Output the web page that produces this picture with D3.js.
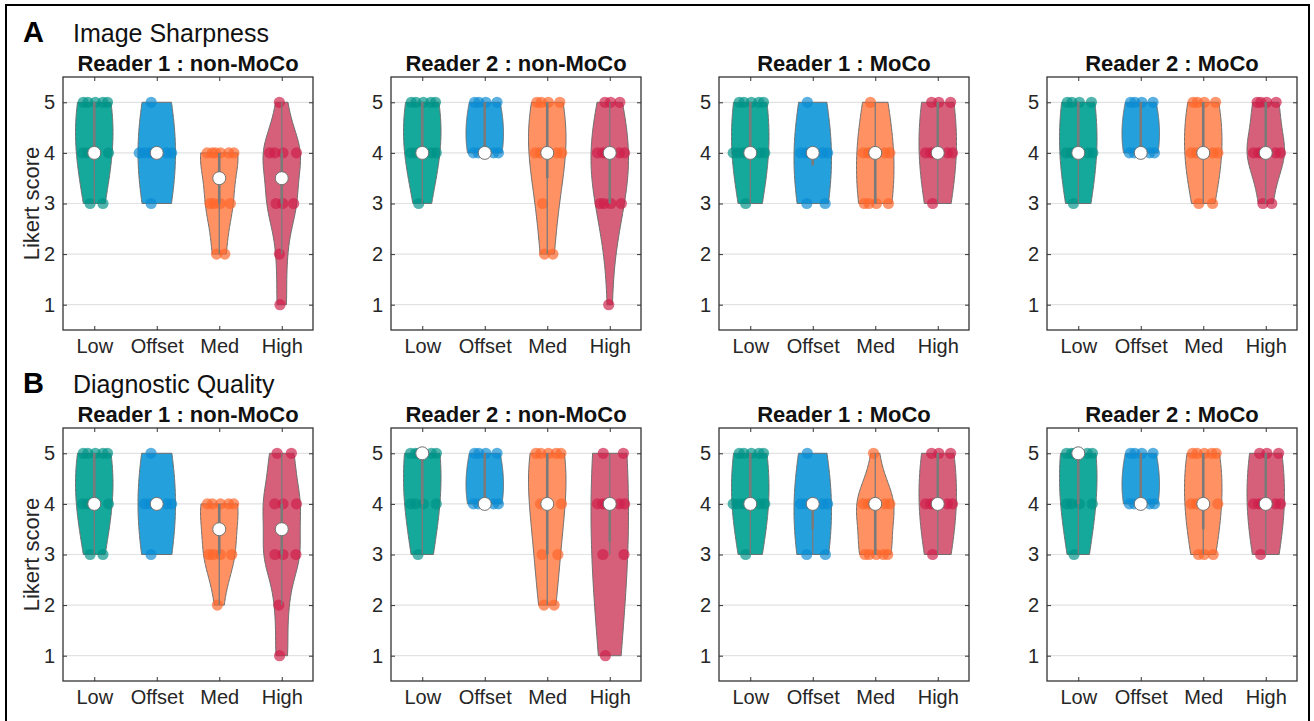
<!DOCTYPE html>
<html>
<head>
<meta charset="utf-8">
<script src="https://cdn.jsdelivr.net/npm/d3@7"></script>
<style>
body { margin: 0; background: #fff; }
svg { display: block; font-family: "Liberation Sans", Arial, sans-serif; }
</style>
</head>
<body>
<svg width="1314" height="721"></svg>
<script>
var svg = d3.select("svg");

// ---- data ----
var categories = ["Low", "Offset", "Med", "High"];
var yTicks = [1, 2, 3, 4, 5];
var panelTitles = ["Reader 1 : non-MoCo", "Reader 2 : non-MoCo", "Reader 1 : MoCo", "Reader 2 : MoCo"];
var rowLetters = ["A", "B"];
var rowTitles = ["Image Sharpness", "Diagnostic Quality"];

// Likert scores for each category (Low, Offset, Med, High)
var sharpR1Non = [
  [5,5,5,5,5,4,4,4,4,3,3],
  [5,4,4,4,4,4,4,4,3],
  [4,4,4,4,4,4,3,3,3,3,2,2],
  [5,4,4,4,4,3,3,3,2,1]
];
var sharpR2Non = [
  [5,5,5,5,5,4,4,4,4,4,3],
  [5,5,5,5,4,4,4,4,4],
  [5,5,5,5,4,4,4,4,4,3,2,2],
  [5,5,5,4,4,4,4,4,4,3,3,3,3,1]
];
var sharpR1Moco = [
  [5,5,5,5,5,4,4,4,4,4,4,4,3],
  [5,4,4,4,4,4,4,3,3],
  [5,4,4,4,4,4,4,3,3,3,3],
  [5,5,5,4,4,4,4,4,4,3]
];
var sharpR2Moco = [
  [5,5,5,5,4,4,4,4,4,4,3],
  [5,5,5,5,4,4,4,4,4],
  [5,5,5,5,4,4,4,4,4,3,3],
  [5,5,5,5,4,4,4,4,4,4,3,3]
];
var diagR1Non = [
  [5,5,5,5,5,4,4,4,4,3,3],
  [5,4,4,4,4,4,3],
  [4,4,4,4,4,3,3,3,3,2],
  [5,5,4,4,4,3,3,3,2,1]
];
var diagR2Non = [
  [5,5,5,5,5,5,4,4,4,4,3],
  [5,5,5,5,4,4,4,4,4],
  [5,5,5,5,5,4,4,4,3,3,2,2],
  [5,5,4,4,4,4,4,4,3,3,1]
];
var diagR1Moco = [
  [5,5,5,5,5,4,4,4,4,4,4,4,3],
  [5,4,4,4,4,4,3,3],
  [5,4,4,4,4,4,4,3,3,3,3,3],
  [5,5,5,4,4,4,4,4,4,3]
];
var diagR2Moco = [
  [5,5,5,5,5,5,4,4,4,4,3],
  [5,5,5,5,4,4,4,4,4],
  [5,5,5,5,5,4,4,4,4,3,3,3],
  [5,5,5,4,4,4,4,4,4,3]
];

var rows = [
  [sharpR1Non, sharpR2Non, sharpR1Moco, sharpR2Moco],
  [diagR1Non, diagR2Non, diagR1Moco, diagR2Moco]
];

// ---- style ----
var fillColors = ["#15a99c", "#24a1dc", "#ff9163", "#d65f79"];
var dotColors = ["#009487", "#0a8bd3", "#ff6629", "#cf1f49"];
var panelX = [63, 391, 719, 1047];
var rowY = [77, 428];
var pw = 250, ph = 253;
var violinWidth = 0.3;

// outer frame
svg.append("rect")
  .attr("x", 6).attr("y", 5)
  .attr("width", 1303).attr("height", 730)
  .attr("fill", "none").attr("stroke", "#000").attr("stroke-width", 2);

// MATLAB-ish helpers
function mquant(s, p) {
  var n = s.length, r = p * n + 0.5;
  if (r <= 1) return s[0];
  if (r >= n) return s[n - 1];
  var i = Math.floor(r), f = r - i;
  return s[i - 1] + f * (s[i] - s[i - 1]);
}
function bandwidth(v) {
  var med = d3.median(v);
  var sig = d3.median(v.map(function(x) { return Math.abs(x - med); })) / 0.6745;
  if (sig <= 0) sig = d3.max(v) - d3.min(v);
  return sig > 0 ? sig * Math.pow(4 / (3 * v.length), 0.2) : 1;
}
function kde(v, h, y) {
  return d3.sum(v, function(x) { return Math.exp(-0.5 * Math.pow((y - x) / h, 2)); });
}

rows.forEach(function(rowData, ri) {
  var top = rowY[ri];

  svg.append("text")
    .attr("x", 23).attr("y", top - 35)
    .attr("font-size", 29).attr("font-weight", "bold")
    .text(rowLetters[ri]);
  svg.append("text")
    .attr("x", 73).attr("y", top - 35)
    .attr("font-size", 25).attr("fill", "#111")
    .text(rowTitles[ri]);

  svg.append("text")
    .attr("transform", "translate(39," + (top + ph / 2) + ") rotate(-90)")
    .attr("text-anchor", "middle")
    .attr("font-size", 22).attr("fill", "#262626")
    .text("Likert score");

  rowData.forEach(function(panel, pi) {
    var left = panelX[pi];
    var g = svg.append("g").attr("transform", "translate(" + left + "," + top + ")");

    var x = d3.scaleLinear().domain([0.5, 4.5]).range([0, pw]);
    var y = d3.scaleLinear().domain([0.5, 5.5]).range([ph, 0]);

    g.append("text")
      .attr("x", pw / 2).attr("y", -6)
      .attr("text-anchor", "middle")
      .attr("font-size", 22).attr("font-weight", "bold").attr("fill", "#111")
      .text(panelTitles[pi]);

    // grid
    g.append("g").selectAll("line")
      .data(yTicks).enter().append("line")
      .attr("x1", 0).attr("x2", pw)
      .attr("y1", function(d) { return y(d); })
      .attr("y2", function(d) { return y(d); })
      .attr("stroke", "#e2e2e2").attr("stroke-width", 1.2);

    panel.forEach(function(scores, ci) {
      var pos = ci + 1;
      var s = scores.slice().sort(d3.ascending);
      var lo = s[0], hi = s[s.length - 1];
      var h = bandwidth(s);
      var grid = d3.range(0, 81).map(function(k) { return lo + (hi - lo) * k / 80; });
      var dens = grid.map(function(v) { return kde(s, h, v); });
      var full = d3.range(-100, 201).map(function(k) { return lo - 3 * h + (hi - lo + 6 * h) * k / 100; });
      var maxD = d3.max(full.map(function(v) { return kde(s, h, v); }).concat(dens));
      var hw = function(v) { return violinWidth * kde(s, h, v) / maxD; };

      var pts = grid.map(function(v, k) { return [pos - violinWidth * dens[k] / maxD, v]; })
        .concat(grid.slice().reverse().map(function(v, k) {
          return [pos + violinWidth * dens[grid.length - 1 - k] / maxD, v];
        }));

      g.append("path")
        .datum(pts)
        .attr("d", d3.line().x(function(d) { return x(d[0]); }).y(function(d) { return y(d[1]); }).curve(d3.curveLinearClosed))
        .attr("fill", fillColors[ci])
        .attr("stroke", "#6e6e6e").attr("stroke-width", 1);

      // scatter, spread over the violin width at each level
      var seen = {};
      var dots = s.map(function(v) {
        var i = seen[v] || 0;
        seen[v] = i + 1;
        var t = 2 * ((0.3 + i * 0.618034) % 1) - 1;
        return { v: v, xv: pos + 0.95 * t * hw(v) };
      });
      g.append("g").selectAll("circle")
        .data(dots).enter().append("circle")
        .attr("cx", function(d) { return x(d.xv); })
        .attr("cy", function(d) { return y(d.v); })
        .attr("r", 5.6)
        .attr("fill", dotColors[ci])
        .attr("fill-opacity", 0.68);

      // box + whiskers
      var q1 = mquant(s, 0.25), q2 = mquant(s, 0.5), q3 = mquant(s, 0.75);
      var iqr = q3 - q1;
      var lw = d3.min(s.filter(function(v) { return v >= q1 - 1.5 * iqr; }));
      var uw = d3.max(s.filter(function(v) { return v <= q3 + 1.5 * iqr; }));
      g.append("line")
        .attr("x1", x(pos)).attr("x2", x(pos))
        .attr("y1", y(lw)).attr("y2", y(uw))
        .attr("stroke", "#7a7a7a").attr("stroke-width", 1.3);
      g.append("rect")
        .attr("x", x(pos) - 1.3).attr("width", 2.6)
        .attr("y", y(q3)).attr("height", Math.max(0, y(q1) - y(q3)))
        .attr("fill", "#7a7a7a");
      g.append("circle")
        .attr("cx", x(pos)).attr("cy", y(q2))
        .attr("r", 6.5)
        .attr("fill", "#fff").attr("stroke", "#707070").attr("stroke-width", 1);
    });

    // axes with inward ticks
    var xb = g.append("g").attr("transform", "translate(0," + ph + ")")
      .call(d3.axisBottom(x).tickValues([1, 2, 3, 4])
        .tickFormat(function(d) { return categories[d - 1]; })
        .tickSize(-4).tickSizeOuter(0).tickPadding(9));
    var xt = g.append("g")
      .call(d3.axisTop(x).tickValues([1, 2, 3, 4]).tickFormat("").tickSize(-4).tickSizeOuter(0));
    var yl = g.append("g")
      .call(d3.axisLeft(y).tickValues(yTicks).tickFormat(d3.format("d"))
        .tickSize(-4).tickSizeOuter(0).tickPadding(8));
    var yr = g.append("g").attr("transform", "translate(" + pw + ",0)")
      .call(d3.axisRight(y).tickValues(yTicks).tickFormat("").tickSize(-4).tickSizeOuter(0));

    [xb, xt, yl, yr].forEach(function(a) {
      a.select(".domain").remove();
      a.selectAll(".tick line").attr("stroke", "#333");
      a.selectAll("text").attr("font-size", 20).attr("fill", "#262626")
        .attr("font-family", "Liberation Sans, Arial, sans-serif");
    });

    g.append("rect")
      .attr("width", pw).attr("height", ph)
      .attr("fill", "none").attr("stroke", "#333").attr("stroke-width", 1.3);
  });
});
</script>
</body>
</html>
